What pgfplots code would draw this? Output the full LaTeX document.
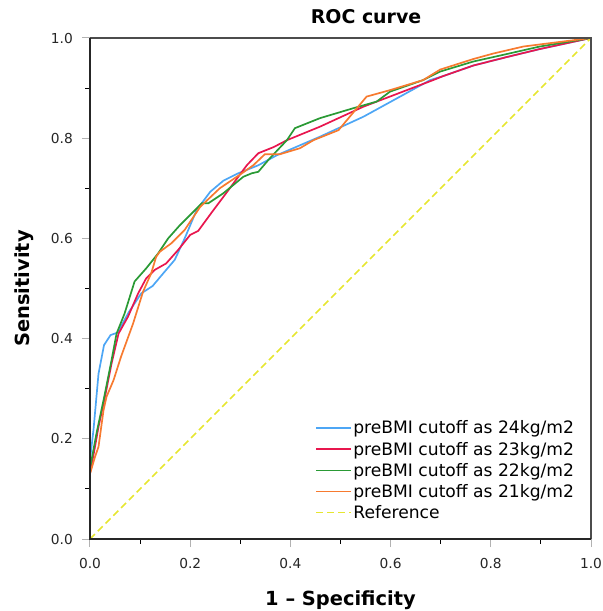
\documentclass[border=0pt]{standalone}
\usepackage{fontspec}
\setmainfont{DejaVu Sans}
\usepackage{pgfplots}
\pgfplotsset{compat=1.18}
\definecolor{cBlue}{HTML}{4DA6F5}
\definecolor{cRed}{HTML}{E8164E}
\definecolor{cGreen}{HTML}{2A9A35}
\definecolor{cOrange}{HTML}{F77A2F}
\definecolor{cYellow}{HTML}{E6E630}
\begin{document}
\begin{tikzpicture}
\useasboundingbox (-90bp,-72bp) rectangle (513bp,539bp);
\begin{axis}[
  at={(0,0)}, anchor=south west,
  scale only axis, width=501bp, height=501bp,
  xmin=0, xmax=1, ymin=0, ymax=1,
  xtick={0,0.2,0.4,0.6,0.8,1.0}, ytick={0,0.2,0.4,0.6,0.8,1.0},
  minor xtick={0.1,0.3,0.5,0.7,0.9}, minor ytick={0.1,0.3,0.5,0.7,0.9},
  tick align=outside, tick pos=left,
  major tick length=8bp, minor tick length=4.5bp,
  every major tick/.append style={draw=gray!60, line width=1bp},
  every minor tick/.append style={draw=black, line width=1bp},
  axis line style={draw=none},
  xticklabel style={anchor=north, inner sep=0pt, text=black!85, font=\fontsize{13.8}{16}\selectfont},
  yticklabel style={anchor=east, inner sep=0pt, text=black!85, font=\fontsize{13.8}{16}\selectfont},
  xticklabel shift=11bp, yticklabel shift=9bp,
  /pgf/number format/.cd, fixed, fixed zerofill, precision=1, assume math mode=true, /pgfplots/.cd,
  title={ROC curve},
  title style={at={(axis description cs:0.551,1.03)}, anchor=center, font=\bfseries\fontsize{19}{22}\selectfont},
  xlabel={1 – Specificity},
  xlabel style={at={(axis description cs:0.5,-0.1327)}, anchor=base, font=\bfseries\fontsize{19.5}{22}\selectfont},
  ylabel={Sensitivity},
  ylabel style={at={(axis description cs:-0.12,0.5)}, anchor=base, font=\bfseries\fontsize{19.5}{22}\selectfont},
  legend style={at={(axis description cs:0.449,0.24)}, anchor=north west, draw=none, fill=none,
     font=\fontsize{17.2}{20}\selectfont, inner sep=0pt, row sep=2.6bp, nodes={inner xsep=1.5bp}},
  legend cell align=left,
  legend image code/.code={\draw[#1] (0bp,0bp) -- (35bp,0bp);},
  clip=false,
]
\addplot[cBlue, line width=1.7bp] coordinates {
(0,0) (0,0.158) (0.007,0.218) (0.017,0.33) (0.028,0.387) (0.041,0.407) (0.055,0.412)
(0.077,0.452) (0.102,0.49) (0.125,0.505) (0.146,0.53) (0.169,0.557) (0.189,0.6)
(0.213,0.657) (0.24,0.693) (0.266,0.715) (0.296,0.73) (0.336,0.746) (0.373,0.766)
(0.459,0.803) (0.546,0.843) (0.679,0.916) (0.705,0.924) (0.765,0.945) (0.832,0.962)
(0.898,0.978) (1,1)};
\addlegendentry{preBMI cutoff as 24kg/m2}
\addplot[cRed, line width=1.7bp] coordinates {
(0,0) (0,0.131) (0.01,0.184) (0.017,0.224) (0.03,0.284) (0.043,0.35) (0.057,0.41)
(0.076,0.444) (0.096,0.49) (0.112,0.52) (0.129,0.537) (0.152,0.55) (0.176,0.577)
(0.2,0.607) (0.216,0.615) (0.246,0.656) (0.279,0.7) (0.313,0.746) (0.336,0.77)
(0.366,0.782) (0.393,0.796) (0.459,0.823) (0.546,0.863) (0.685,0.916) (0.705,0.924)
(0.765,0.945) (0.832,0.962) (0.898,0.978) (1,1)};
\addlegendentry{preBMI cutoff as 23kg/m2}
\addplot[cGreen, line width=1.7bp] coordinates {
(0,0) (0,0.141) (0.013,0.211) (0.027,0.277) (0.043,0.357) (0.053,0.41) (0.069,0.45)
(0.089,0.514) (0.112,0.54) (0.136,0.57) (0.156,0.6) (0.18,0.627) (0.223,0.67)
(0.236,0.67) (0.266,0.69) (0.306,0.723) (0.323,0.73) (0.336,0.733) (0.359,0.76)
(0.393,0.796) (0.409,0.82) (0.459,0.84) (0.526,0.86) (0.572,0.873) (0.599,0.893)
(0.665,0.916) (0.699,0.933) (0.765,0.953) (0.832,0.968) (0.898,0.983) (1,1)};
\addlegendentry{preBMI cutoff as 22kg/m2}
\addplot[cOrange, line width=1.7bp] coordinates {
(0,0) (0,0.13) (0.01,0.164) (0.017,0.184) (0.027,0.257) (0.033,0.284) (0.047,0.317)
(0.062,0.364) (0.086,0.43) (0.106,0.494) (0.122,0.53) (0.132,0.563) (0.139,0.573)
(0.162,0.59) (0.189,0.617) (0.22,0.663) (0.259,0.7) (0.299,0.727) (0.326,0.746)
(0.349,0.768) (0.379,0.768) (0.419,0.78) (0.446,0.796) (0.496,0.816) (0.532,0.859)
(0.552,0.883) (0.599,0.896) (0.665,0.916) (0.699,0.937) (0.765,0.958) (0.805,0.969)
(0.865,0.983) (1,1)};
\addlegendentry{preBMI cutoff as 21kg/m2}
\addplot[cYellow, line width=1.5bp, dash pattern=on 7bp off 4bp] coordinates {(0,0) (1,1)};
\addlegendentry{Reference}
\draw[gray!60!black, line width=1.8bp] (rel axis cs:0,1) -- (rel axis cs:1,1) -- (rel axis cs:1,0);
\draw[black!85, line width=1.6bp] (rel axis cs:0,1) -- (rel axis cs:0,0) -- (rel axis cs:1,0);
\end{axis}
\end{tikzpicture}
\end{document}
